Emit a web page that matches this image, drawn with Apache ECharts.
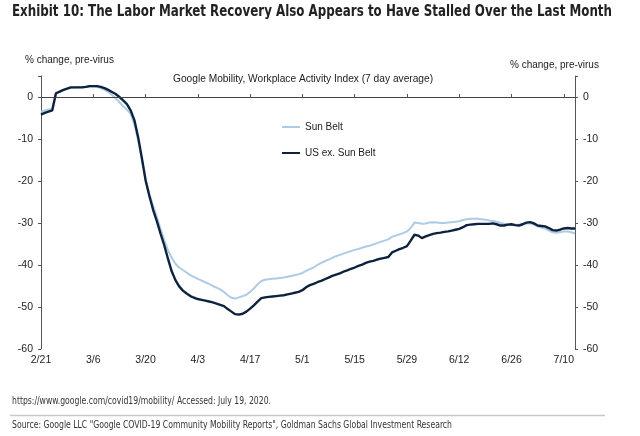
<!DOCTYPE html>
<html>
<head>
<meta charset="utf-8">
<script src="https://cdn.jsdelivr.net/npm/echarts@6/dist/echarts.min.js"></script>
<style>
  html, body { margin: 0; padding: 0; background: #fff; }
  #chart { width: 640px; height: 436px; }
</style>
</head>
<body>
<div id="chart"></div>
<script>
// daily dates 2/21 .. 7/13 (2020)
const dates = [];
const start = new Date(2020, 1, 21);
for (let i = 0; i < 144; i++) {
  const d = new Date(start.getTime() + i * 86400000);
  dates.push((d.getMonth() + 1) + '/' + d.getDate());
}

const sunBelt = [
  -3.5, -3.2, -3.0, -2.9, 0.8, 1.2, 1.6, 2.0, 2.2, 2.2,
  2.3, 2.3, 2.4, 2.5, 2.5, 2.4, 2.1, 1.7, 1.2, 0.5,
  -0.3, -1.2, -2.2, -3.0, -4.0, -6.5, -10.2, -14.8, -19.5, -23.0,
  -25.8, -28.5, -31.3, -34.0, -36.5, -38.3, -39.7, -40.6, -41.2, -41.8,
  -42.4, -42.9, -43.3, -43.7, -44.1, -44.5, -45.0, -45.4, -45.8, -46.4,
  -47.2, -47.8, -48.0, -47.7, -47.4, -47.1, -46.4, -45.6, -44.6, -43.8,
  -43.5, -43.4, -43.3, -43.2, -43.1, -43.0, -42.8, -42.6, -42.4, -42.2,
  -41.9, -41.4, -41.0, -40.6, -40.0, -39.5, -39.1, -38.7, -38.3, -37.9,
  -37.6, -37.3, -37.0, -36.7, -36.4, -36.2, -35.9, -35.6, -35.4, -35.1,
  -34.8, -34.5, -34.2, -33.9, -33.3, -33.0, -32.7, -32.4, -32.0, -31.2,
  -29.9, -30.0, -30.2, -30.1, -29.9, -29.8, -29.9, -30.0, -30.0, -29.9,
  -29.8, -29.7, -29.6, -29.3, -29.1, -29.0, -29.0, -29.0, -29.1, -29.2,
  -29.4, -29.5, -29.7, -30.0, -30.2, -30.3, -30.4, -30.4, -30.4, -30.2,
  -30.1, -30.1, -30.4, -30.8, -31.1, -31.3, -31.8, -32.2, -32.3, -32.2,
  -32.0, -32.0, -32.2, -32.5
];

const usExSunBelt = [
  -4.2, -3.8, -3.5, -3.2, 0.9, 1.3, 1.7, 2.0, 2.3, 2.3,
  2.3, 2.3, 2.4, 2.6, 2.6, 2.6, 2.4, 2.1, 1.7, 1.2,
  0.7, 0.0, -0.8, -1.7, -3.2, -5.5, -9.5, -14.5, -19.8, -23.5,
  -26.8, -29.5, -32.5, -35.3, -38.5, -41.5, -43.6, -45.1, -46.1, -46.8,
  -47.4, -47.8, -48.1, -48.3, -48.5, -48.7, -48.9, -49.2, -49.5, -49.8,
  -50.5, -51.1, -51.7, -51.8, -51.6, -51.1, -50.4, -49.6, -48.7, -47.9,
  -47.7, -47.6, -47.5, -47.4, -47.3, -47.2, -47.0, -46.8, -46.6, -46.4,
  -46.0, -45.3, -44.8, -44.5, -44.1, -43.8, -43.4, -43.0, -42.6, -42.3,
  -42.0, -41.6, -41.3, -40.9, -40.6, -40.2, -39.9, -39.5, -39.2, -39.0,
  -38.7, -38.5, -38.3, -38.1, -37.0, -36.6, -36.2, -35.9, -35.5, -34.2,
  -32.8, -33.0, -33.6, -33.2, -32.9, -32.6, -32.4, -32.3, -32.1, -32.0,
  -31.8, -31.6, -31.4, -31.0, -30.5, -30.4, -30.3, -30.2, -30.2, -30.2,
  -30.2, -30.1, -30.3, -30.6, -30.6, -30.4, -30.3, -30.5, -30.6, -30.3,
  -29.9, -29.8, -30.1, -30.6, -30.7, -30.8, -31.2, -31.7, -31.8, -31.6,
  -31.3, -31.2, -31.3, -31.3
];

const yTicks = [0, -10, -20, -30, -40, -50, -60];

const headerText = 'Exhibit 10: The Labor Market Recovery Also Appears to Have Stalled Over the Last Month';
const urlText = 'https://www.google.com/covid19/mobility/ Accessed: July 19, 2020.';
const sourceText = 'Source: Google LLC "Google COVID-19 Community Mobility Reports", Goldman Sachs Global Investment Research';

// squeeze text horizontally to the width it takes in the picture (condensed fonts)
const measureCtx = document.createElement('canvas').getContext('2d');
function squeeze(text, font, targetWidth) {
  measureCtx.font = font;
  return targetWidth / measureCtx.measureText(text).width;
}
const headFont = 'bold 15px "DejaVu Sans Condensed", "Liberation Sans"';
const footFont = '11px "DejaVu Sans Condensed", "Liberation Sans"';

const chart = echarts.init(document.getElementById('chart'));

const yAxisBase = {
  type: 'value',
  min: -60,
  max: 5,
  interval: 10,
  splitLine: { show: false },
  axisLine: { show: true, lineStyle: { color: '#555', width: 1 } },
  axisTick: { show: true, length: 3, lineStyle: { color: '#555' } },
  axisLabel: {
    color: '#222', fontSize: 10.5, fontFamily: 'Liberation Sans, Arial',
    formatter: v => (yTicks.indexOf(v) >= 0 ? String(v) : '')
  }
};

const option = {
  animation: false,
  backgroundColor: '#fff',
  title: [
    {
      text: 'Google Mobility, Workplace Activity Index (7 day average)',
      left: 168, top: 69,
      textStyle: { fontSize: 10.2, fontWeight: 'normal', color: '#222', fontFamily: 'Liberation Sans, Arial' }
    },
    {
      text: '% change, pre-virus',
      left: 20, top: 50,
      textStyle: { fontSize: 10, fontWeight: 'normal', color: '#222', fontFamily: 'Liberation Sans, Arial' }
    },
    {
      text: '% change, pre-virus',
      left: 505, top: 55,
      textStyle: { fontSize: 10, fontWeight: 'normal', color: '#222', fontFamily: 'Liberation Sans, Arial' }
    }
  ],
  graphic: [
    {
      type: 'text', left: 12, top: 5,
      scaleX: squeeze(headerText, headFont, 600),
      style: { text: headerText, font: headFont, fill: '#222' }
    },
    {
      type: 'text', left: 12, top: 396,
      scaleX: squeeze(urlText, footFont, 259),
      style: { text: urlText, font: footFont, fill: '#333' }
    },
    {
      type: 'text', left: 12, top: 420,
      scaleX: squeeze(sourceText, footFont, 440),
      style: { text: sourceText, font: footFont, fill: '#333' }
    },
    {
      type: 'line',
      shape: { x1: 10, y1: 415.5, x2: 605, y2: 415.5 },
      style: { stroke: '#c8c8c8', lineWidth: 1.5 }
    }
  ],
  legend: {
    orient: 'vertical',
    left: 277, top: 117,
    icon: 'rect',
    itemWidth: 18, itemHeight: 2,
    itemGap: 16,
    textStyle: { fontSize: 10, color: '#222', fontFamily: 'Liberation Sans, Arial' },
    data: ['Sun Belt', 'US ex. Sun Belt']
  },
  grid: { left: 41, right: 65, top: 76, bottom: 87, containLabel: false },
  xAxis: {
    type: 'category',
    data: dates,
    boundaryGap: false,
    axisLine: { lineStyle: { color: '#555', width: 1 } },
    axisTick: { show: true, inside: true, length: 3, interval: 13, lineStyle: { color: '#555' } },
    axisLabel: {
      interval: 13, color: '#222', fontSize: 10.5, margin: 6,
      fontFamily: 'Liberation Sans, Arial'
    }
  },
  yAxis: [
    Object.assign({}, yAxisBase, { position: 'left' }),
    Object.assign({}, yAxisBase, { position: 'right' })
  ],
  series: [
    {
      name: 'Sun Belt',
      type: 'line',
      data: sunBelt,
      symbol: 'none',
      lineStyle: { color: '#aecbe6', width: 2 },
      itemStyle: { color: '#aecbe6' },
      z: 2,
      markLine: {
        silent: true,
        symbol: 'none',
        label: { show: false },
        lineStyle: { color: '#444', width: 1, type: 'solid' },
        data: [{ yAxis: 0 }]
      }
    },
    {
      name: 'US ex. Sun Belt',
      type: 'line',
      data: usExSunBelt,
      symbol: 'none',
      lineStyle: { color: '#0e2240', width: 2.4 },
      itemStyle: { color: '#0e2240' },
      z: 3
    }
  ]
};

chart.setOption(option);
</script>
</body>
</html>
